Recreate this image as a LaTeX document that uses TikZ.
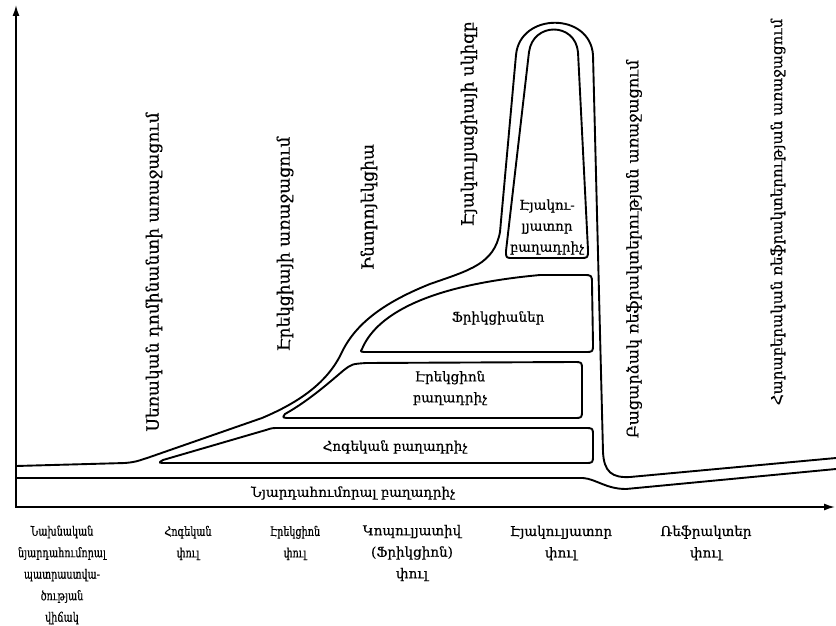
\documentclass[tikz,border=0pt]{standalone}
\usepackage{fontspec}
\setmainfont{DejaVu Serif}[FakeBold=0.5]
\newfontfamily\narrowfont{DejaVu Serif}[FakeStretch=0.74,FakeBold=0.5]
\usetikzlibrary{arrows.meta}
\begin{document}
\begin{tikzpicture}[x=1pt,y=-1pt,
  contour/.style={line width=1.9pt, line join=round, line cap=round},
  axis/.style={line width=1.5pt},
  boxlbl/.style={font=\fontsize{13.5}{21}\selectfont, align=center, inner sep=0pt},
  phase/.style={font=\narrowfont\fontsize{13}{21.5}\selectfont, align=center, inner sep=0pt},
  phasewide/.style={font=\fontsize{13.5}{21.5}\selectfont, align=center, inner sep=0pt},
  vlbl/.style={font=\fontsize{17}{19}\selectfont, rotate=90, inner sep=0pt},
]
\useasboundingbox (0,0) rectangle (836,626);
% axes
\coordinate (O) at (16,507);
\coordinate (ytop) at (16,5);
\coordinate (xend) at (835,507);
\draw[axis, {Latex[length=11pt,width=7pt]}-{Latex[length=11pt,width=7pt]}] (ytop) -- (O) -- (xend);
% outer contour
\draw[contour] (16,466) -- (125,463) .. controls (135,462) .. (150,457) -- (262,418)
  .. controls (300,402) and (328,382) .. (342,352) .. controls (356,323) and (385,302) .. (430,284)
  .. controls (470,270) and (494,264) .. (500,232) -- (516,55)
  .. controls (520,12) and (590,12) .. (593,55) -- (603,452)
  .. controls (604,472) and (612,478) .. (630,477) -- (836,458);
% lower contour (top of bottom band)
\draw[contour] (16,478) -- (583,478) .. controls (596,479) and (606,489) .. (626,489) -- (836,469);
% Hogekan box
\draw[contour] (163,460) -- (266,430) .. controls (272,428) .. (280,428) -- (585,428)
  .. controls (593,428) .. (593,436) -- (593,455) .. controls (593,463) .. (585,463)
  -- (168,463) .. controls (158,463) .. cycle;
% Erektsion box
\draw[contour] (285,414) .. controls (310,400) and (332,380) .. (344,370)
  .. controls (352,364) .. (366,363) -- (574,362) .. controls (582,362) .. (582,370)
  -- (582,410) .. controls (582,418) .. (574,418) -- (292,418) .. controls (282,418) .. cycle;
% Frikcianer box
\draw[contour] (362,349) .. controls (375,318) and (420,286) .. (540,275) -- (583,275)
  .. controls (592,275) .. (592,284) -- (593,344) .. controls (593,352) .. (585,352)
  -- (369,352) .. controls (360,352) .. cycle;
% Ejakulyator box
\draw[contour] (506,251) -- (529,52) .. controls (533,22) and (575,22) .. (578,52)
  -- (588,250) .. controls (588,258) .. (580,258) -- (513,258) .. controls (506,258) .. cycle;
% box labels
\node[boxlbl] (band) at (353,493) {Նյարդահումորալ բաղադրիչ};
\node[boxlbl] (hog) at (395,447) {Հոգեկան բաղադրիչ};
\node[boxlbl] (erek) at (450,388) {Էրեկցիոն\\բաղադրիչ};
\node[boxlbl] (frik) at (498,318) {Ֆրիկցիաներ};
\node[boxlbl] (ejak) at (547,227) {Էյակու-\\լյատոր\\բաղադրիչ};
% vertical labels
\node[vlbl] (v1) at (154,272) {Սեռական դոմինանտի առաջացում};
\node[vlbl] (v2) at (285,244) {Էրեկցիայի առաջացում};
\node[vlbl] (v3) at (369,207) {Ինտրոյեկցիա};
\node[vlbl] (v4) at (469,124) {Էյակուլյացիայի սկիզբ};
\node[vlbl, font=\fontsize{16}{19}\selectfont] (v5) at (634,249) {Բացարձակ ռեֆրակտերության առաջացում};
\node[vlbl, font=\fontsize{15}{19}\selectfont] (v6) at (778,212) {Հարաբերական ռեֆրակտերության առաջացում};
% phase labels
\node[phase] (p1) at (62,575) {Նախնական\\նյարդահումորալ\\պատրաստվա-\\ծության\\վիճակ};
\node[phase] (p2) at (188,543) {Հոգեկան\\փուլ};
\node[phase] (p3) at (295,543) {Էրեկցիոն\\փուլ};
\node[phasewide] (p4) at (412,553) {Կոպուլյատիվ\\(Ֆրիկցիոն)\\փուլ};
\node[phasewide] (p5) at (561,543) {Էյակուլյատոր\\փուլ};
\node[phasewide] (p6) at (706,543) {Ռեֆրակտեր\\փուլ};
\end{tikzpicture}
\end{document}
